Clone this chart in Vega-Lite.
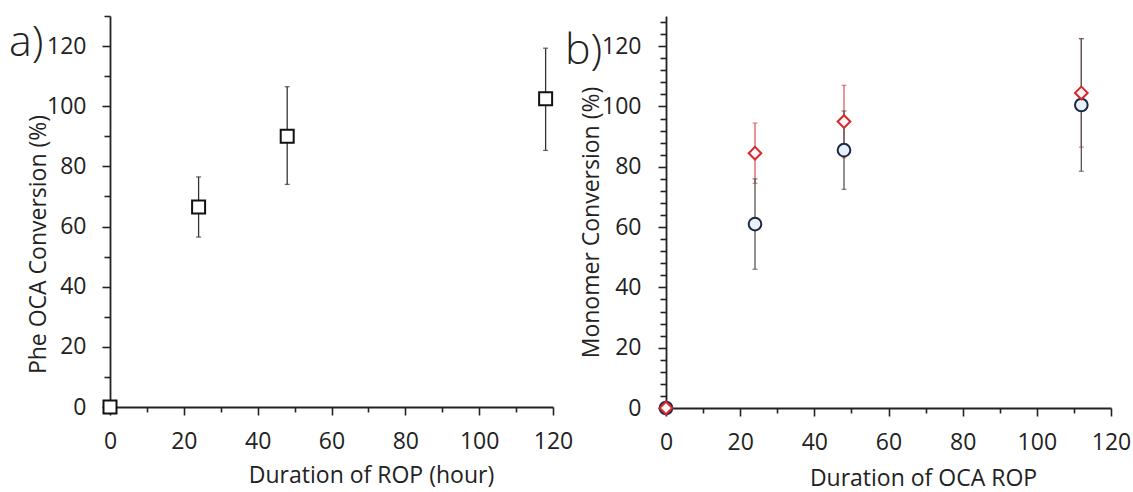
{
  "$schema": "https://vega.github.io/schema/vega-lite/v6.json",
  "padding": {"left": 9, "top": 5, "right": 2, "bottom": 2},
  "spacing": -8,
  "config": {
    "view": {"stroke": null},
    "font": "Open Sans",
    "axis": {
      "grid": false,
      "labelFont": "Open Sans",
      "labelFontSize": 23,
      "labelColor": "#222",
      "titleFont": "Open Sans",
      "titleFontSize": 23,
      "titleFontWeight": "normal",
      "titleColor": "#222",
      "domainColor": "#222",
      "domainWidth": 1.8,
      "tickColor": "#222",
      "tickWidth": 1.6,
      "labelOverlap": false,
      "labelFlush": false
    },
    "title": {"font": "Open Sans", "fontSize": 43, "fontWeight": 300, "color": "#222", "anchor": "start", "frame": "group", "baseline": "alphabetic", "offset": 0}
  },
  "datasets": {
    "left": [
      {"t": 0, "conv": 0, "lo": null, "hi": null},
      {"t": 24, "conv": 66.5, "lo": 56.5, "hi": 76.5},
      {"t": 48, "conv": 90, "lo": 74, "hi": 106.5},
      {"t": 118, "conv": 102.5, "lo": 85.3, "hi": 119.3}
    ],
    "right": [
      {"series": "circle", "t": 0, "conv": 0, "lo": null, "hi": null},
      {"series": "circle", "t": 24, "conv": 61, "lo": 46, "hi": 76},
      {"series": "circle", "t": 48, "conv": 85.5, "lo": 72.5, "hi": 98.5},
      {"series": "circle", "t": 112, "conv": 100.5, "lo": 78.5, "hi": 122.5},
      {"series": "diamond", "t": 0, "conv": 0, "lo": null, "hi": null},
      {"series": "diamond", "t": 24, "conv": 84.5, "lo": 74.5, "hi": 94.5},
      {"series": "diamond", "t": 48, "conv": 95, "lo": 83, "hi": 107},
      {"series": "diamond", "t": 112, "conv": 104.5, "lo": 86.5, "hi": 122.5}
    ]
  },
  "hconcat": [
    {
      "width": 443,
      "height": 391,
      "title": {"text": "a)", "dx": -101, "dy": 64},
      "data": {"name": "left"},
      "encoding": {
        "x": {"field": "t", "type": "quantitative", "scale": {"domain": [0, 120], "nice": false},
          "axis": {"values": [0, 10, 20, 30, 40, 50, 60, 70, 80, 90, 100, 110, 120], "labelExpr": "datum.value % 20 === 0 ? datum.label : ''", "tickSize": {"condition": {"test": "datum.value % 20 === 0", "value": 8}, "value": 5}, "labelPadding": 15, "title": "Duration of ROP (hour)", "titleX": 261, "titleY": 57}}
      },
      "layer": [
        {
          "transform": [{"filter": "datum.lo != null"}],
          "mark": {"type": "errorbar", "color": "#333", "thickness": 1.3, "ticks": {"size": 5}},
          "encoding": {
            "y": {"field": "lo", "type": "quantitative", "scale": {"domain": [0, 130], "nice": false},
              "axis": {"values": [0, 10, 20, 30, 40, 50, 60, 70, 80, 90, 100, 110, 120, 130], "labelExpr": "datum.value % 20 === 0 ? datum.label : ''", "tickSize": {"condition": {"test": "datum.value % 20 === 0", "value": 8}, "value": 6}, "labelPadding": 16, "title": "Phe OCA Conversion (%)", "titleX": -60, "titleY": 228, "titleBaseline": "bottom"}},
            "y2": {"field": "hi"}
          }
        },
        {
          "mark": {"type": "point", "shape": "square", "size": 169, "filled": true, "fill": "white", "stroke": "#111", "strokeWidth": 2, "opacity": 1},
          "encoding": {
            "y": {"field": "conv", "type": "quantitative", "scale": {"domain": [0, 130], "nice": false},
              "axis": {"values": [0, 10, 20, 30, 40, 50, 60, 70, 80, 90, 100, 110, 120, 130], "labelExpr": "datum.value % 20 === 0 ? datum.label : ''", "tickSize": {"condition": {"test": "datum.value % 20 === 0", "value": 8}, "value": 6}, "labelPadding": 16, "title": "Phe OCA Conversion (%)", "titleX": -60, "titleY": 228, "titleBaseline": "bottom"}}
          }
        }
      ]
    },
    {
      "width": 445,
      "height": 392,
      "title": {"text": "b)", "dx": -101, "dy": 66},
      "data": {"name": "right"},
      "encoding": {
        "x": {"field": "t", "type": "quantitative", "scale": {"domain": [0, 120], "nice": false},
          "axis": {"values": [0, 10, 20, 30, 40, 50, 60, 70, 80, 90, 100, 110, 120], "labelExpr": "datum.value % 20 === 0 ? datum.label : ''", "tickSize": {"condition": {"test": "datum.value % 20 === 0", "value": 8}, "value": 5}, "labelPadding": 15, "title": "Duration of OCA ROP", "titleX": 257, "titleY": 59}}
      },
      "layer": [
        {
          "transform": [{"filter": "datum.lo != null && datum.series === 'diamond'"}],
          "mark": {"type": "errorbar", "color": "#e05a5e", "thickness": 1.3, "ticks": {"size": 5}},
          "encoding": {
            "y": {"field": "lo", "type": "quantitative", "scale": {"domain": [0, 130], "nice": false},
              "axis": {"values": [0, 4, 8, 12, 16, 20, 24, 28, 32, 36, 40, 44, 48, 52, 56, 60, 64, 68, 72, 76, 80, 84, 88, 92, 96, 100, 104, 108, 112, 116, 120, 124, 128], "labelExpr": "datum.value % 20 === 0 ? datum.label : ''", "tickSize": {"condition": {"test": "datum.value % 20 === 0", "value": 8}, "value": 6}, "labelPadding": 17, "title": "Monomer Conversion (%)", "titleX": -63, "titleY": 206, "titleBaseline": "bottom"}},
            "y2": {"field": "hi"}
          }
        },
        {
          "transform": [{"filter": "datum.lo != null && datum.series === 'circle'"}],
          "mark": {"type": "errorbar", "color": "#555", "thickness": 1.3, "ticks": {"size": 5}},
          "encoding": {
            "y": {"field": "lo", "type": "quantitative", "scale": {"domain": [0, 130], "nice": false},
              "axis": {"values": [0, 4, 8, 12, 16, 20, 24, 28, 32, 36, 40, 44, 48, 52, 56, 60, 64, 68, 72, 76, 80, 84, 88, 92, 96, 100, 104, 108, 112, 116, 120, 124, 128], "labelExpr": "datum.value % 20 === 0 ? datum.label : ''", "tickSize": {"condition": {"test": "datum.value % 20 === 0", "value": 8}, "value": 6}, "labelPadding": 17, "title": "Monomer Conversion (%)", "titleX": -63, "titleY": 206, "titleBaseline": "bottom"}},
            "y2": {"field": "hi"}
          }
        },
        {
          "transform": [{"filter": "datum.series === 'circle'"}],
          "mark": {"type": "point", "shape": "circle", "size": 160, "filled": true, "fill": "#eaf0f8", "stroke": "#1c2746", "strokeWidth": 2, "opacity": 1},
          "encoding": {
            "y": {"field": "conv", "type": "quantitative", "scale": {"domain": [0, 130], "nice": false},
              "axis": {"values": [0, 4, 8, 12, 16, 20, 24, 28, 32, 36, 40, 44, 48, 52, 56, 60, 64, 68, 72, 76, 80, 84, 88, 92, 96, 100, 104, 108, 112, 116, 120, 124, 128], "labelExpr": "datum.value % 20 === 0 ? datum.label : ''", "tickSize": {"condition": {"test": "datum.value % 20 === 0", "value": 8}, "value": 6}, "labelPadding": 17, "title": "Monomer Conversion (%)", "titleX": -63, "titleY": 206, "titleBaseline": "bottom"}}
          }
        },
        {
          "transform": [{"filter": "datum.series === 'diamond'"}],
          "mark": {"type": "point", "shape": "diamond", "size": 160, "filled": true, "fill": "#fff6f6", "stroke": "#d9262b", "strokeWidth": 2, "opacity": 1},
          "encoding": {
            "y": {"field": "conv", "type": "quantitative", "scale": {"domain": [0, 130], "nice": false},
              "axis": {"values": [0, 4, 8, 12, 16, 20, 24, 28, 32, 36, 40, 44, 48, 52, 56, 60, 64, 68, 72, 76, 80, 84, 88, 92, 96, 100, 104, 108, 112, 116, 120, 124, 128], "labelExpr": "datum.value % 20 === 0 ? datum.label : ''", "tickSize": {"condition": {"test": "datum.value % 20 === 0", "value": 8}, "value": 6}, "labelPadding": 17, "title": "Monomer Conversion (%)", "titleX": -63, "titleY": 206, "titleBaseline": "bottom"}}
          }
        }
      ]
    }
  ]
}
